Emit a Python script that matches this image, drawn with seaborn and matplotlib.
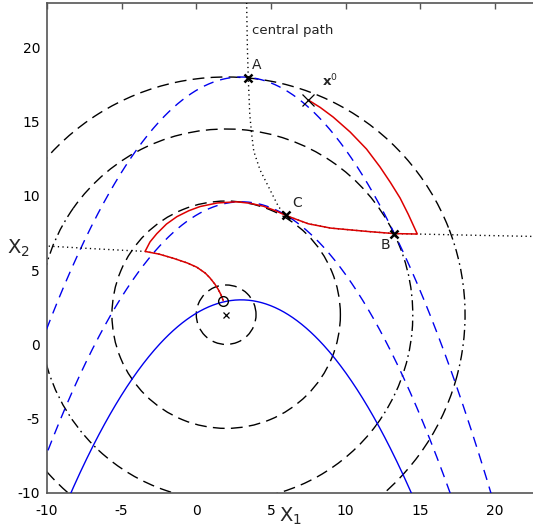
import numpy as np
import pandas as pd
import matplotlib
matplotlib.use("Agg")
import matplotlib.pyplot as plt
from matplotlib.patches import Arc
import seaborn as sns

sns.set_theme(style="white")
plt.rcParams["font.family"] = ["DejaVu Sans"]
plt.rcParams["lines.scale_dashes"] = False
plt.rcParams["axes.unicode_minus"] = False

# ---- problem data -------------------------------------------------------
# objective level sets: circles around the unconstrained minimiser
center = (2.0, 2.0)
# arcs of each level circle: radius, start angle, end angle, style
arc_radius = [2.0, 7.65, 12.5, 12.5, 12.5, 12.5, 16.0, 16.0]
arc_theta1 = [0, 0, 26, 145, 227, 323.5, 21.5, -16]
arc_theta2 = [360, 360, 145, 227, 323.5, 386, 344, 21.5]
arc_style = ["dash", "dash", "dash", "dashdot", "dash", "dashdot", "dash", "dashdot"]

# constraint boundaries x2 = level - k (x1 - vertex)^2
parab_vertex = 3.0
parab_k = 0.1
solid_level = 3.0
shifted_levels = [9.6, 18.0]

# iterate path
path_x1 = [7.5, 8.3, 9.17, 10.3, 11.4, 12.3, 13.0, 13.65, 14.2, 14.8, 13.26, 11.5,
           9.0, 7.5, 6.0, 5.3, 4.5, 3.6, 2.7, 1.4, 0.25, -0.5, -1.3, -2.0, -2.65,
           -3.1, -3.43, -2.5, -1.54, -0.6, 0.03, 0.6, 0.92, 1.25, 1.47, 1.65, 1.8]
path_x2 = [16.45, 15.95, 15.3, 14.3, 13.15, 11.95, 10.9, 9.85, 8.75, 7.43, 7.46, 7.6,
           7.83, 8.12, 8.68, 9.0, 9.3, 9.5, 9.6, 9.52, 9.28, 9.0, 8.6, 8.1, 7.45,
           6.9, 6.26, 6.08, 5.8, 5.48, 5.2, 4.8, 4.47, 4.05, 3.7, 3.35, 2.95]

# central path, two branches
cp1_x1 = [3.37, 3.42, 3.48, 3.58, 3.7, 3.85, 4.27, 4.94, 5.5, 6.0, 7.5, 9.0, 11.5,
          13.26, 14.8, 18.5, 23.0]
cp1_x2 = [23.0, 20.0, 17.94, 15.5, 14.2, 13.0, 11.74, 10.4, 9.28, 8.68, 8.12, 7.83,
          7.6, 7.46, 7.43, 7.35, 7.26]
cp2_x1 = [-10.5, -6.5, -3.43, -2.5, -1.54, -0.6, 0.03, 0.6, 0.92, 1.25, 1.47, 1.65, 1.8]
cp2_x2 = [6.65, 6.42, 6.26, 6.08, 5.8, 5.48, 5.2, 4.8, 4.47, 4.05, 3.7, 3.35, 2.95]

# labelled points
pt_names = ["A", "B", "C"]
pt_x1 = [3.48, 13.26, 6.0]
pt_x2 = [17.94, 7.46, 8.68]
lab_x1 = [4.05, 12.69, 6.78]
lab_x2 = [18.8, 6.71, 9.51]
start_pt = (7.5, 16.45)
solution_pt = (1.8, 2.95)

ticks = [-10, -5, 0, 5, 10, 15, 20]

# ---- figure ---------------------------------------------------------------
W, H = 533, 531
fig = plt.figure(figsize=(W / 100, H / 100), dpi=100)
ax = fig.add_axes([47 / W, (H - 493) / H, (W - 47) / W, (493 - 2.7) / H])
ax.set_xlim(-10, 22.55)
ax.set_ylim(-10, 23)

DASH = (0, (8.5, 4.5))
BDASH = (0, (7.5, 5.0))
DASHDOT = (0, (7.5, 3.0, 1.2, 3.0))
DOT = (0, (0.9, 2.4))

styles = {"dash": DASH, "dashdot": DASHDOT}
for r, t1, t2, s in zip(arc_radius, arc_theta1, arc_theta2, arc_style):
    ax.add_patch(Arc(center, 2 * r, 2 * r, theta1=t1, theta2=t2,
                     color="black", lw=1.0, linestyle=styles[s], zorder=2))

xs = np.linspace(-12, 25, 500)
sns.lineplot(x=xs, y=solid_level - parab_k * (xs - parab_vertex) ** 2, ax=ax,
             color="#0000ee", lw=1.0, sort=False, estimator=None, zorder=3)
for lv in shifted_levels:
    sns.lineplot(x=xs, y=lv - parab_k * (xs - parab_vertex) ** 2, ax=ax,
                 color="#0000ee", lw=1.0, linestyle=BDASH, sort=False,
                 estimator=None, zorder=3)

for cx, cy in [(cp1_x1, cp1_x2), (cp2_x1, cp2_x2)]:
    sns.lineplot(x=cx, y=cy, ax=ax, color="black", lw=1.0, linestyle=DOT,
                 sort=False, estimator=None, zorder=4)

sns.lineplot(x=path_x1, y=path_x2, ax=ax, color="#dd0000", lw=1.1,
             sort=False, estimator=None, zorder=5)

ax.plot(pt_x1, pt_x2, ls="none", marker="x", ms=6, mew=1.8, color="black", zorder=6)
ax.plot(*start_pt, marker="x", ms=9, mew=0.9, color="black", zorder=6)
ax.plot(*center, marker="x", ms=4.5, mew=0.9, color="black", zorder=6)
ax.plot(*solution_pt, marker="o", ms=7, mew=1.0, mfc="none", color="black", zorder=6)

for name, x, y in zip(pt_names, lab_x1, lab_x2):
    ax.text(x, y, name, fontsize=10, ha="center", va="center", color="#222222")
ax.text(8.4, 17.34, r"$\mathbf{x}^0$", fontsize=9.5, ha="left", va="baseline")
ax.text(3.71, 21.14, "central path", fontsize=9.5, ha="left", va="center",
        color="#222222")

ax.set_xticks(ticks)
ax.set_yticks(ticks)
ax.tick_params(axis="both", direction="in", length=4, width=1, colors="#555555",
               labelcolor="black", labelsize=10, top=True, right=False)
ax.tick_params(axis="x", pad=8)
ax.tick_params(axis="y", pad=5)
for side in ["left", "bottom", "top"]:
    ax.spines[side].set_color("#555555")
    ax.spines[side].set_linewidth(1.2)
ax.spines["right"].set_visible(False)

ax.set_xlabel(r"$\mathrm{X}_1$", fontsize=14)
ax.set_ylabel(r"$\mathrm{X}_2$", fontsize=14, rotation=0)
ax.xaxis.set_label_coords(0.5, -0.047)
ax.xaxis.label.set_va("center")
ax.yaxis.set_label_coords(-0.058, 0.5)
ax.yaxis.label.set_va("center")
ax.yaxis.label.set_ha("center")

fig.savefig("out.png", dpi=100)
